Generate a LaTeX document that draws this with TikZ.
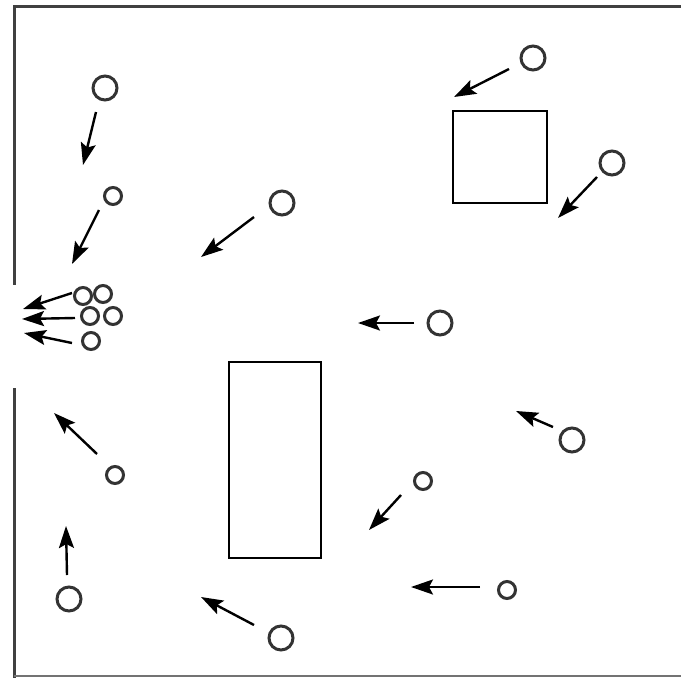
\documentclass[tikz,border=0pt]{standalone}
\usetikzlibrary{arrows.meta}
\begin{document}
\begin{tikzpicture}[x=1pt,y=-1pt,
  wall/.style={draw=black!75,line width=3pt},
  floorline/.style={draw=black!55,line width=2pt},
  block/.style={draw=black,line width=2.6pt},
  bigball/.style={circle,draw=black!80,line width=3pt,minimum size=24pt,inner sep=0pt},
  smallball/.style={circle,draw=black!80,line width=3pt,minimum size=17pt,inner sep=0pt},
  flow/.style={draw=black,line width=2.4pt,-{Stealth[length=22pt,width=15pt,inset=4pt]}}]
\useasboundingbox (0,0) rectangle (681,678);

% room outline with an opening in the left wall
\draw[wall] (681,6) -- (14,6) -- (14,285);
\draw[wall] (14,388) -- (14,678);
\draw[floorline] (14,676) -- (681,676);

% obstacles
\draw[block] (453,111) rectangle (547,203);
\draw[block] (229,362) rectangle (321,558);

% particles
\node[bigball]   (c1)  at (105,88)  {};
\node[smallball] (c2)  at (113,196) {};
\node[bigball]   (c3)  at (282,203) {};
\node[bigball]   (c4)  at (533,58)  {};
\node[bigball]   (c5)  at (612,163) {};
\node[smallball] (k1)  at (83,296)  {};
\node[smallball] (k2)  at (103,294) {};
\node[smallball] (k3)  at (90,316)  {};
\node[smallball] (k4)  at (113,316) {};
\node[smallball] (k5)  at (91,341)  {};
\node[bigball]   (c7)  at (440,323) {};
\node[bigball]   (c8)  at (572,440) {};
\node[smallball] (c9)  at (423,481) {};
\node[smallball] (c10) at (115,475) {};
\node[bigball]   (c11) at (69,599)  {};
\node[smallball] (c12) at (507,590) {};
\node[bigball]   (c13) at (281,638) {};

% motion vectors: tail and tip of each
\coordinate (s1)  at (96,112);  \coordinate (e1)  at (83,165);
\coordinate (s2)  at (99,210);  \coordinate (e2)  at (72,264);
\coordinate (s3)  at (254,217); \coordinate (e3)  at (201,257);
\coordinate (s4)  at (509,69);  \coordinate (e4)  at (454,97);
\coordinate (s5)  at (597,177); \coordinate (e5)  at (558,218);
\coordinate (s6)  at (72,293);  \coordinate (e6)  at (23,309);
\coordinate (s7)  at (75,318);  \coordinate (e7)  at (22,319);
\coordinate (s8)  at (72,343);  \coordinate (e8)  at (24,333);
\coordinate (s9)  at (414,323); \coordinate (e9)  at (358,323);
\coordinate (s10) at (553,427); \coordinate (e10) at (516,411);
\coordinate (s11) at (401,495); \coordinate (e11) at (369,530);
\coordinate (s12) at (480,587); \coordinate (e12) at (411,587);
\coordinate (s13) at (97,454);  \coordinate (e13) at (54,413);
\coordinate (s14) at (67,575);  \coordinate (e14) at (66,526);
\coordinate (s15) at (254,625); \coordinate (e15) at (201,597);

\foreach \i in {1,...,15} \draw[flow] (s\i) -- (e\i);
\end{tikzpicture}
\end{document}
